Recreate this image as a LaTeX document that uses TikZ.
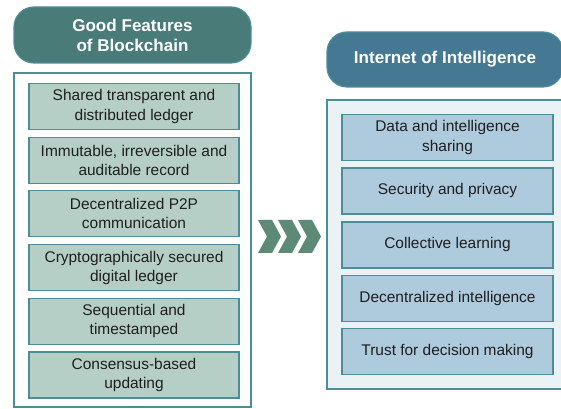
\documentclass[tikz,border=0pt]{standalone}
\usepackage{fontspec}
\setmainfont{Liberation Sans}
\usepackage{xcolor}

\definecolor{headgreen}{RGB}{73,123,120}
\definecolor{headblue}{RGB}{69,120,147}
\definecolor{frameteal}{RGB}{74,143,151}
\definecolor{itemgreen}{RGB}{182,207,198}
\definecolor{itemblue}{RGB}{174,202,221}
\definecolor{panelblue}{RGB}{235,242,246}
\definecolor{chevgreen}{RGB}{92,138,119}

\tikzset{
  featbox/.style={draw=frameteal, line width=0.9pt, fill=itemgreen, minimum width=157.5pt, minimum height=34.5pt, inner sep=0pt, align=center, text=black!88, font=\fontsize{11.6}{14.3}\selectfont},
  iotbox/.style={featbox, fill=itemblue, minimum width=158.25pt},
  headbox/.style={rounded corners=15pt, draw=frameteal, line width=0.9pt, inner sep=0pt, align=center, text=white, font=\fontsize{12.8}{15}\selectfont\bfseries},
  panel/.style={draw=frameteal, line width=1pt, inner sep=0pt}
}

\begin{document}
\begin{tikzpicture}[x=0.75pt,y=0.75pt,yscale=-1,xscale=1]
\useasboundingbox (0,0) rectangle (561,409);
\clip (0,0) rectangle (561,409);
%Shape: Rounded Rect [left header]
\node[headbox, fill=headgreen, minimum width=177.75pt, minimum height=42pt] (goodhead) at (132.5,35) {Good Features\\of Blockchain};
%Shape: Rectangle [left panel]
\node[panel, fill=white, minimum width=177.75pt, minimum height=250.5pt] (goodpanel) at (132.5,240) {};
%Shape: Rounded Rect [right header]
\node[headbox, fill=headblue, minimum width=177pt, minimum height=41.25pt] (ioihead) at (445,59.5) {Internet of Intelligence};
%Shape: Rectangle [right panel]
\node[panel, fill=panelblue, minimum width=186pt, minimum height=216.75pt] (ioipanel) at (451,244.5) {};
% Feature boxes
\node[featbox] (feat1) at (134,106.5) {Shared transparent and\\distributed ledger};
\node[featbox] (feat2) at (134,160.2) {Immutable, irreversible and\\auditable record};
\node[featbox] (feat3) at (134,213.9) {Decentralized P2P\\communication};
\node[featbox] (feat4) at (134,267.6) {Cryptographically secured\\digital ledger};
\node[featbox] (feat5) at (134,321.3) {Sequential and\\timestamped};
\node[featbox] (feat6) at (134,375) {Consensus-based\\updating};
% Intelligence boxes
\node[iotbox] (ioi1) at (447.5,137.5) {Data and intelligence\\sharing};
\node[iotbox] (ioi2) at (447.5,191) {Security and privacy};
\node[iotbox] (ioi3) at (447.5,245) {Collective learning};
\node[iotbox] (ioi4) at (447.5,298.5) {Decentralized intelligence};
\node[iotbox] (ioi5) at (447.5,351.5) {Trust for decision making};
%Shape: Chevrons
\foreach \i in {0,1,2}
  \fill[chevgreen] ({258+20*\i},220) -- ++(14,0) -- ++(9,16.5) -- ++(-9,16.5) -- ++(-14,0) -- ++(9,-16.5) -- cycle;
\end{tikzpicture}
\end{document}
